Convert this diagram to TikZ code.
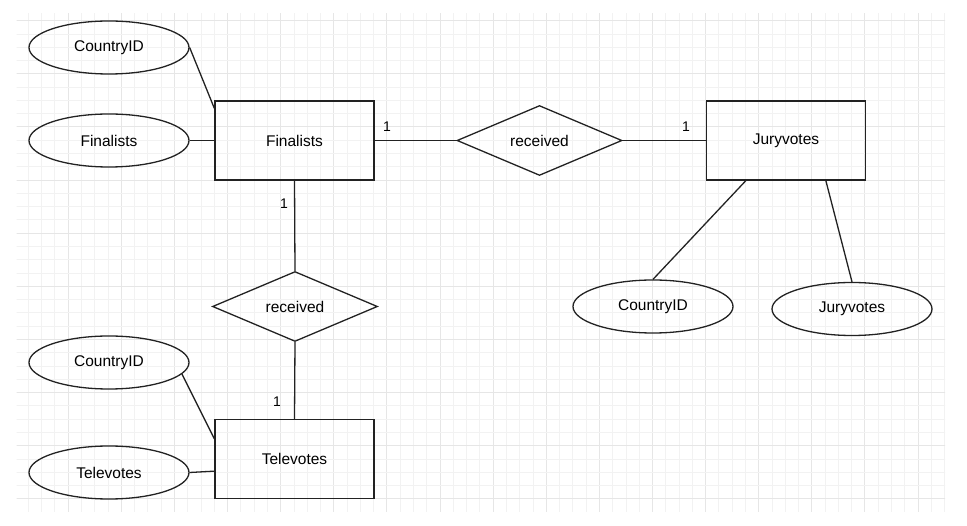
\documentclass[tikz,border=0pt]{standalone}
\usepackage{fontspec}
\setmainfont{Liberation Sans}
\usetikzlibrary{shapes.geometric}
\definecolor{gridminor}{HTML}{F2F2F2}
\definecolor{gridmajor}{HTML}{E6E6E6}
\definecolor{ink}{HTML}{222222}
\tikzset{
  entity/.style={draw=ink, line width=1.3pt, rectangle, minimum width=159pt, minimum height=79pt, inner sep=0pt, font=\fontsize{15.5pt}{18pt}\selectfont},
  attr/.style={draw=ink, line width=1.3pt, ellipse, minimum width=160pt, minimum height=53pt, inner sep=0pt, font=\fontsize{15.5pt}{18pt}\selectfont},
  rel/.style={draw=ink, line width=1.3pt, diamond, minimum width=165pt, minimum height=66pt, inner sep=0pt, font=\fontsize{15.5pt}{18pt}\selectfont},
  conn/.style={draw=ink, line width=1.3pt},
  card/.style={inner sep=0pt, font=\fontsize{14pt}{16pt}\selectfont},
}
\begin{document}
\begin{tikzpicture}[x=1pt, y=-1pt]
\useasboundingbox (0,0) rectangle (967,526);
% grid
\begin{scope}
\clip (16.7,13.3) rectangle (945,511.7);
\foreach \k in {0,...,69} {
  \pgfmathsetmacro{\xx}{28.3+13.28*\k}
  \pgfmathtruncatemacro{\m}{mod(\k,4)}
  \ifnum\m=3
    \draw[gridmajor, line width=0.9pt] (\xx,0) -- (\xx,526);
  \else
    \draw[gridminor, line width=0.8pt] (\xx,0) -- (\xx,526);
  \fi
}
\foreach \k in {-1,...,38} {
  \pgfmathsetmacro{\yy}{20.7+13.28*\k}
  \pgfmathtruncatemacro{\m}{mod(\k+40,4)}
  \ifnum\m=0
    \draw[gridmajor, line width=0.9pt] (0,\yy) -- (967,\yy);
  \else
    \draw[gridminor, line width=0.8pt] (0,\yy) -- (967,\yy);
  \fi
}
\end{scope}
% entities
\node[entity] (fin) at (294.5,140.5) {Finalists};
\node[entity] (jury) at (786,140.5) {Juryvotes};
\node[entity] (tel) at (294.5,459) {Televotes};
% relations
\node[rel] (rec1) at (539.5,140.5) {received};
\node[rel] (rec2) at (295,306.5) {received};
% attributes
\node[attr] (cid1) at (109,47.5) {CountryID};
\node[attr] (fatt) at (109,140.5) {Finalists};
\node[attr] (cid2) at (653,306.5) {CountryID};
\node[attr] (jatt) at (852,309) {Juryvotes};
\node[attr] (cid3) at (109,362.5) {CountryID};
\node[attr] (tatt) at (109,472.5) {Televotes};
% connectors
\draw[conn] (cid1.east) -- ([yshift=-8pt]fin.north west);
\draw[conn] (fatt.east) -- (fin.west);
\draw[conn] (fin.east) -- (rec1.west);
\draw[conn] (rec1.east) -- (jury.west);
\draw[conn] ([xshift=40pt]jury.south west) -- (cid2.north);
\draw[conn] ([xshift=120pt]jury.south west) -- (jatt.north);
\draw[conn] (fin.south) -- (rec2.north);
\draw[conn] (rec2.south) -- (tel.north);
\draw[conn] (cid3.-9) -- ([yshift=-20pt]tel.north west);
\draw[conn] (tatt.east) -- ([yshift=28pt]tel.south west);
% cardinalities
\node[card] (c1) at (387,127) {1};
\node[card] (c2) at (686,127) {1};
\node[card] (c3) at (284,203.5) {1};
\node[card] (c4) at (277,402) {1};
\end{tikzpicture}
\end{document}
